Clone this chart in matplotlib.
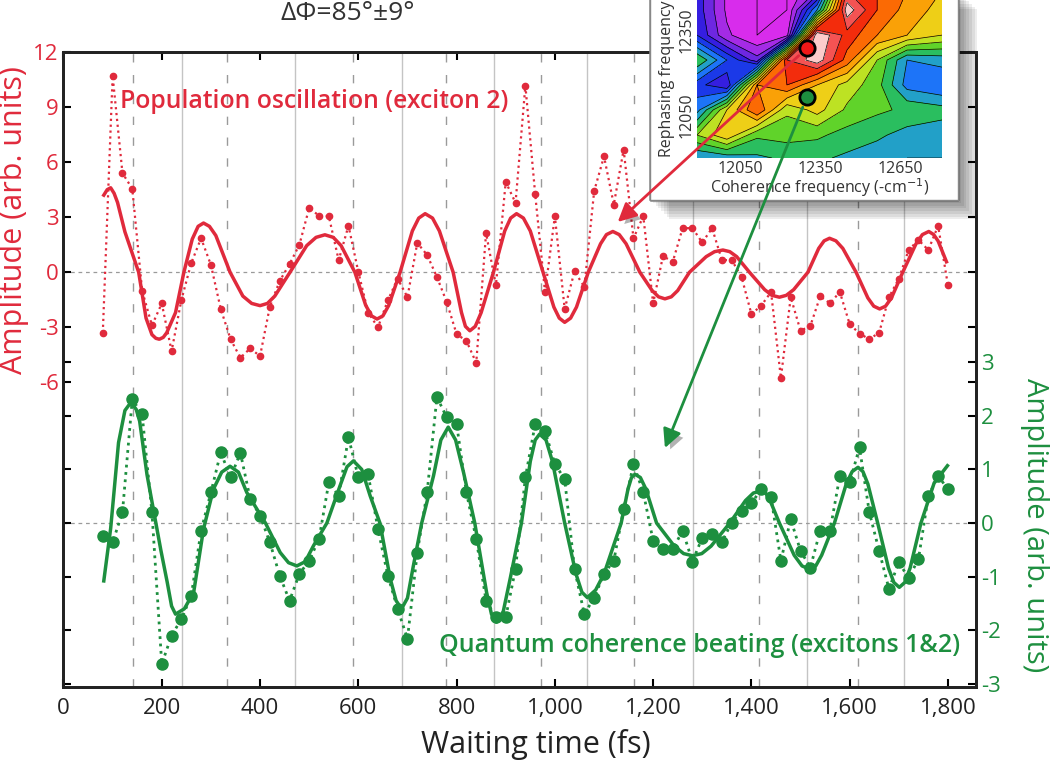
import numpy as np
import matplotlib
matplotlib.use('Agg')
from matplotlib import pyplot as plt
from matplotlib import patheffects as pe
from matplotlib.colors import LinearSegmentedColormap
from matplotlib.patches import ConnectionPatch, Rectangle
from matplotlib.ticker import FuncFormatter

plt.rcParams['font.family'] = ['Open Sans', 'DejaVu Sans']
plt.rcParams['axes.unicode_minus'] = False

RED = '#e02a3c'
GREEN = '#1d8f3f'

# waiting times, one sample every 20 fs
t = np.arange(80, 1801, 20)

# population oscillation (exciton 2), left axis
pop = [-3.3, 10.7, 5.4, 4.55, -1.0, -2.9, -1.7, -4.3, -1.5, 0.5,
       1.85, 0.4, -2.0, -3.65, -4.66, -4.15, -4.57, -1.87, -0.48, 0.44,
       1.49, 3.5, 3.08, 3.05, 0.66, 2.53, 0.02, -2.2, -3.0, -1.54,
       -0.35, -1.36, 1.6, 0.94, -0.26, -1.63, -3.37, -3.74, -4.94, 2.13,
       -0.72, 4.92, 3.78, 10.17, 4.24, -1.08, 3.05, -2.0, 0.05, -0.8,
       4.42, 6.31, 3.69, 6.68, 1.85, 3.05, -1.7, 0.88, 0.57, 2.4,
       2.4, 1.62, 2.4, 0.66, 0.66, -0.26, -2.28, -1.82, -1.08, -5.76,
       -1.36, -3.19, -2.92, -1.32, -1.69, -1.08, -2.83, -3.34, -3.65, -3.29,
       -1.36, -0.35, 1.21, 1.76, 1.21, 2.53, -0.72]

# quantum coherence beating (excitons 1&2), right axis
coh = [-0.24, -0.36, 0.2, 2.31, 2.03, 0.2, -2.63, -2.1, -1.79, -1.36,
       -0.14, 0.57, 1.32, 0.85, 1.31, 0.45, 0.14, -0.36, -0.98, -1.45,
       -0.95, -0.7, -0.3, 0.76, 0.51, 1.6, 0.85, 0.91, -0.11, -0.98,
       -1.6, -2.16, -0.55, 0.57, 2.35, 1.97, 1.85, 0.57, -0.3, -1.45,
       -1.76, -1.76, -0.85, 0.85, 1.85, 1.72, 1.1, 0.82, -0.86, -1.7,
       -1.39, -0.95, -0.7, 0.26, 1.1, 0.57, -0.33, -0.49, -0.49, -0.14,
       -0.72, -0.27, -0.21, -0.35, 0.01, 0.23, 0.37, 0.63, 0.48, -0.7,
       0.07, -0.52, -0.83, -0.14, -0.14, 0.88, 0.76, 1.41, 0.2, -0.52,
       -1.23, -0.73, -1.03, -0.67, 0.5, 0.88, 0.63]

# fitted curves
pop_fit_t = [82, 89, 96, 103, 110, 125, 139, 153, 168, 180,
             188, 195, 203, 210, 228, 245, 262, 274, 285, 297,
             310, 339, 365, 383, 400, 415, 430, 461, 495, 514,
             532, 549, 565, 593, 615, 627, 638, 650, 662, 685,
             710, 723, 736, 751, 765, 793, 810, 818, 827, 838,
             850, 875, 898, 910, 922, 936, 950, 976, 998, 1009,
             1020, 1032, 1044, 1068, 1093, 1105, 1118, 1131, 1145, 1173,
             1198, 1211, 1224, 1237, 1250, 1274, 1308, 1325, 1342, 1356,
             1370, 1396, 1427, 1442, 1457, 1471, 1486, 1515, 1537, 1548,
             1559, 1572, 1586, 1613, 1637, 1649, 1661, 1673, 1685, 1708,
             1735, 1748, 1761, 1771, 1780, 1797]
pop_fit = [4.2, 4.5, 4.6, 4.3, 3.8, 2.2, 1.1, 0.0, -2.5, -3.4,
           -3.6, -3.65, -3.55, -3.3, -2.2, 0.0, 1.8, 2.5, 2.68, 2.5,
           2.0, 0.0, -1.3, -1.7, -1.82, -1.7, -1.3, 0.0, 1.45, 1.9,
           2.04, 1.9, 1.45, 0.0, -1.8, -2.38, -2.55, -2.38, -1.8, 0.0,
           2.25, 2.95, 3.19, 2.95, 2.25, 0.0, -2.2, -2.95, -3.19, -2.95,
           -2.2, 0.0, 2.25, 2.95, 3.19, 2.95, 2.25, 0.0, -1.9, -2.5,
           -2.73, -2.5, -1.9, 0.0, 1.55, 2.05, 2.22, 2.05, 1.55, 0.0,
           -1.0, -1.34, -1.45, -1.34, -1.0, 0.0, 0.85, 1.12, 1.21, 1.12,
           0.85, 0.0, -0.95, -1.26, -1.36, -1.26, -0.95, 0.0, 1.3, 1.71,
           1.85, 1.71, 1.3, 0.0, -1.4, -1.85, -2.0, -1.85, -1.4, 0.0,
           1.55, 2.05, 2.22, 2.05, 1.7, 0.57]

coh_fit_t = [82, 96, 112, 125, 133, 140, 148, 155, 170, 184,
             198, 211, 220, 228, 246, 265, 285, 305, 322, 339,
             356, 373, 411, 441, 458, 475, 492, 509, 536, 563,
             577, 590, 607, 624, 644, 665, 677, 688, 700, 712,
             729, 753, 768, 783, 798, 814, 837, 861, 871, 881,
             895, 909, 932, 950, 960, 969, 982, 995, 1020, 1043,
             1055, 1066, 1083, 1100, 1135, 1149, 1156, 1163, 1174, 1185,
             1207, 1243, 1262, 1280, 1299, 1318, 1356, 1388, 1404, 1420,
             1429, 1438, 1457, 1487, 1503, 1518, 1531, 1543, 1569, 1593,
             1605, 1617, 1627, 1637, 1657, 1679, 1690, 1701, 1712, 1723,
             1745, 1772, 1799]
coh_fit = [-1.08, -0.1, 1.5, 2.1, 2.2, 2.22, 2.12, 1.9, 0.9, 0.2,
           -0.5, -1.1, -1.55, -1.7, -1.6, -1.29, -0.11, 0.63, 0.95, 1.06,
           0.95, 0.57, 0.0, -0.55, -0.74, -0.8, -0.72, -0.42, 0.0, 0.7,
           1.05, 1.16, 1.0, 0.51, 0.0, -1.04, -1.45, -1.6, -1.4, -0.8,
           0.0, 0.88, 1.55, 1.79, 1.55, 0.95, 0.0, -1.29, -1.7, -1.85,
           -1.65, -1.04, 0.0, 1.15, 1.55, 1.66, 1.55, 1.15, 0.0, -0.95,
           -1.29, -1.39, -1.25, -0.95, 0.0, 0.64, 0.85, 0.91, 0.85, 0.64,
           0.0, -0.43, -0.57, -0.61, -0.57, -0.43, 0.0, 0.42, 0.56, 0.6,
           0.56, 0.42, 0.0, -0.6, -0.8, -0.86, -0.8, -0.6, 0.0, 0.73,
           0.96, 1.04, 0.96, 0.73, 0.0, -0.84, -1.11, -1.2, -1.11, -0.84,
           0.0, 0.75, 1.07]

# guide lines at the coherence maxima (dashed) and minima (solid)
peak_lines = [142, 333, 589, 779, 972, 1161, 1416, 1616]
trough_lines = [242, 472, 688, 877, 1065, 1281, 1513, 1711]

# 2D spectrum in the inset, coarse read-off of the colour levels
# (0 magenta ... 4 green ... 7 red, 8 white)
spec_x = [11889, 12001, 12114, 12226, 12339, 12451, 12564, 12676, 12807]
spec_y = [11898, 11979, 12068, 12156, 12244, 12332, 12421, 12491]
spec_z = [[3.0, 3.2, 3.4, 3.6, 3.6, 3.4, 3.2, 3.0, 3.0],
          [4.5, 5.4, 4.1, 4.2, 4.1, 3.8, 3.6, 3.3, 3.2],
          [2.8, 5.0, 6.5, 4.6, 5.2, 4.4, 4.1, 3.9, 3.7],
          [2.2, 1.5, 6.0, 6.5, 5.5, 4.8, 4.2, 2.8, 2.5],
          [4.0, 2.5, 1.2, 7.0, 7.8, 6.3, 4.5, 3.0, 3.2],
          [2.0, 0.6, 0.0, 0.3, 8.0, 6.8, 6.0, 5.5, 5.0],
          [1.8, 0.4, 0.0, 0.0, 3.0, 7.8, 6.5, 5.8, 5.3],
          [1.8, 0.4, 0.0, 0.0, 1.0, 7.0, 6.5, 6.0, 5.5]]
red_spot = (12301, 12286)
green_spot = (12301, 12114)


fig = plt.figure(figsize=(10.53, 7.69), dpi=100)
ax = fig.add_axes([0.0603, 0.1066, 0.867, 0.8258])
ax2 = ax.twinx()

ax.set_xlim(0, 1858)
ax.set_ylim(-22.6, 12)
ax2.set_ylim(-3.06, 8.79)

for x in trough_lines:
    ax.axvline(x, color='#c4c4c4', lw=1.0, zorder=0)
for x in peak_lines:
    ax.axvline(x, color='#9a9a9a', lw=1.0, ls=(0, (6, 9)), zorder=0)
ax.axhline(0, color='#9a9a9a', lw=0.9, ls=(0, (3, 3)), zorder=0)
ax2.axhline(0, color='#9a9a9a', lw=0.9, ls=(0, (3, 3)), zorder=0)

ax.plot(t, pop, ':', color=RED, lw=1.6, marker='o', ms=4.5)
ax.plot(pop_fit_t, pop_fit, '-', color=RED, lw=2.5, solid_joinstyle='round')
ax2.plot(t, coh, ':', color=GREEN, lw=2.0, marker='o', ms=8)
ax2.plot(coh_fit_t, coh_fit, '-', color=GREEN, lw=2.5, solid_joinstyle='round')

ax.text(115, 9.3, 'Population oscillation (exciton 2)', color=RED,
        fontsize=17.8, fontweight='semibold', ha='left', va='center')
ax2.text(1824, -2.28, 'Quantum coherence beating (excitons 1&2)', color=GREEN,
         fontsize=18, fontweight='semibold', ha='right', va='center')

ax.set_xticks(range(0, 1801, 200))
ax.xaxis.set_major_formatter(FuncFormatter(lambda v, p: f'{int(v):,}'))
ax.set_yticks([-6, -3, 0, 3, 6, 9, 12])
ax2.set_yticks([-3, -2, -1, 0, 1, 2, 3])

ax.tick_params(axis='x', direction='in', length=6, width=1.5, top=True,
               labelsize=16, labelcolor='#222222', pad=8)
ax.tick_params(axis='y', direction='in', length=6, width=1.5, left=True,
               right=True, labelright=False, labelsize=16, labelcolor=RED)
ax2.tick_params(axis='y', direction='in', length=6, width=1.5, left=True,
                right=True, labelleft=False, labelright=True,
                labelsize=16, labelcolor=GREEN)
for a in (ax, ax2):
    for s in a.spines.values():
        s.set_linewidth(2)
        s.set_color('#222222')

fig.text(536 / 1053, 1 - 744 / 769, 'Waiting time (fs)', fontsize=22,
         color='#222222', ha='center', va='center')
fig.text(0.013, 1 - 220 / 769, 'Amplitude (arb. units)', color=RED,
         fontsize=22, rotation=90, ha='center', va='center')
fig.text(1035 / 1053, 1 - 525 / 769, 'Amplitude (arb. units)', color=GREEN,
         fontsize=21, rotation=270, ha='center', va='center')
fig.text(348 / 1053, 1 - 14 / 769, 'ΔΦ=85°±9°', color='#333333',
         fontsize=19, ha='center', va='center')

# inset: white card with a soft shadow
shadow_layers = [pe.withSimplePatchShadow(offset=(k, -k), shadow_rgbFace='k', alpha=0.07)
                 for k in (2, 4, 6, 8, 10, 12, 14)]
card = Rectangle((650 / 1053, 1 - 200 / 769), 308 / 1053, 210 / 769,
                 transform=fig.transFigure, facecolor='white',
                 edgecolor='#888888', lw=1, zorder=4, path_effects=shadow_layers)
fig.patches.append(card)

axin = fig.add_axes([697 / 1053, 1 - 158 / 769, 245 / 1053, 158 / 769], zorder=5)
cmap = LinearSegmentedColormap.from_list(
    'spec', ['#f22cf0', '#8a2be2', '#1a1ae0', '#1e90ff', '#2ecc2e',
             '#e8e820', '#ff8c00', '#f01010', '#ffffff'])
levels = np.arange(0, 8.6, 0.5)
axin.contourf(spec_x, spec_y, spec_z, levels=levels, cmap=cmap, vmin=0, vmax=8)
axin.contour(spec_x, spec_y, spec_z, levels=levels, colors='k', linewidths=0.5)
axin.set_xlim(11889, 12807)
axin.set_ylim(11898, 12456)
axin.plot(*red_spot, 'o', ms=11, mfc='#f01818', mec='k', mew=2)
axin.plot(*green_spot, 'o', ms=11, mfc=GREEN, mec='k', mew=2)
axin.set_xticks([12050, 12350, 12650])
axin.set_yticks([12050, 12350])
axin.tick_params(length=0, labelsize=11.5, labelcolor='#333333', pad=2)
for lab in axin.get_yticklabels():
    lab.set_rotation(90)
    lab.set_va('center')
axin.set_xlabel('Coherence frequency (-cm$^{-1}$)', fontsize=11.5,
                color='#333333', labelpad=0)
axin.set_ylabel('Rephasing frequency', fontsize=11.5, color='#333333', labelpad=2)
for s in axin.spines.values():
    s.set_visible(False)

# arrows from the spectrum to the traces
shadow = [pe.withSimplePatchShadow(offset=(3, -3), shadow_rgbFace='k', alpha=0.3)]
red_arrow = ConnectionPatch(xyA=red_spot, coordsA=axin.transData,
                            xyB=(1128, 2.74), coordsB=ax.transData,
                            arrowstyle='-|>', color=RED, lw=2,
                            mutation_scale=28, shrinkA=8, shrinkB=0,
                            zorder=6, path_effects=shadow)
green_arrow = ConnectionPatch(xyA=green_spot, coordsA=axin.transData,
                              xyB=(1224, 1.4), coordsB=ax2.transData,
                              arrowstyle='-|>', color=GREEN, lw=2,
                              mutation_scale=28, shrinkA=8, shrinkB=0,
                              zorder=6, path_effects=shadow)
fig.add_artist(red_arrow)
fig.add_artist(green_arrow)

fig.savefig('out.png', dpi=100)
